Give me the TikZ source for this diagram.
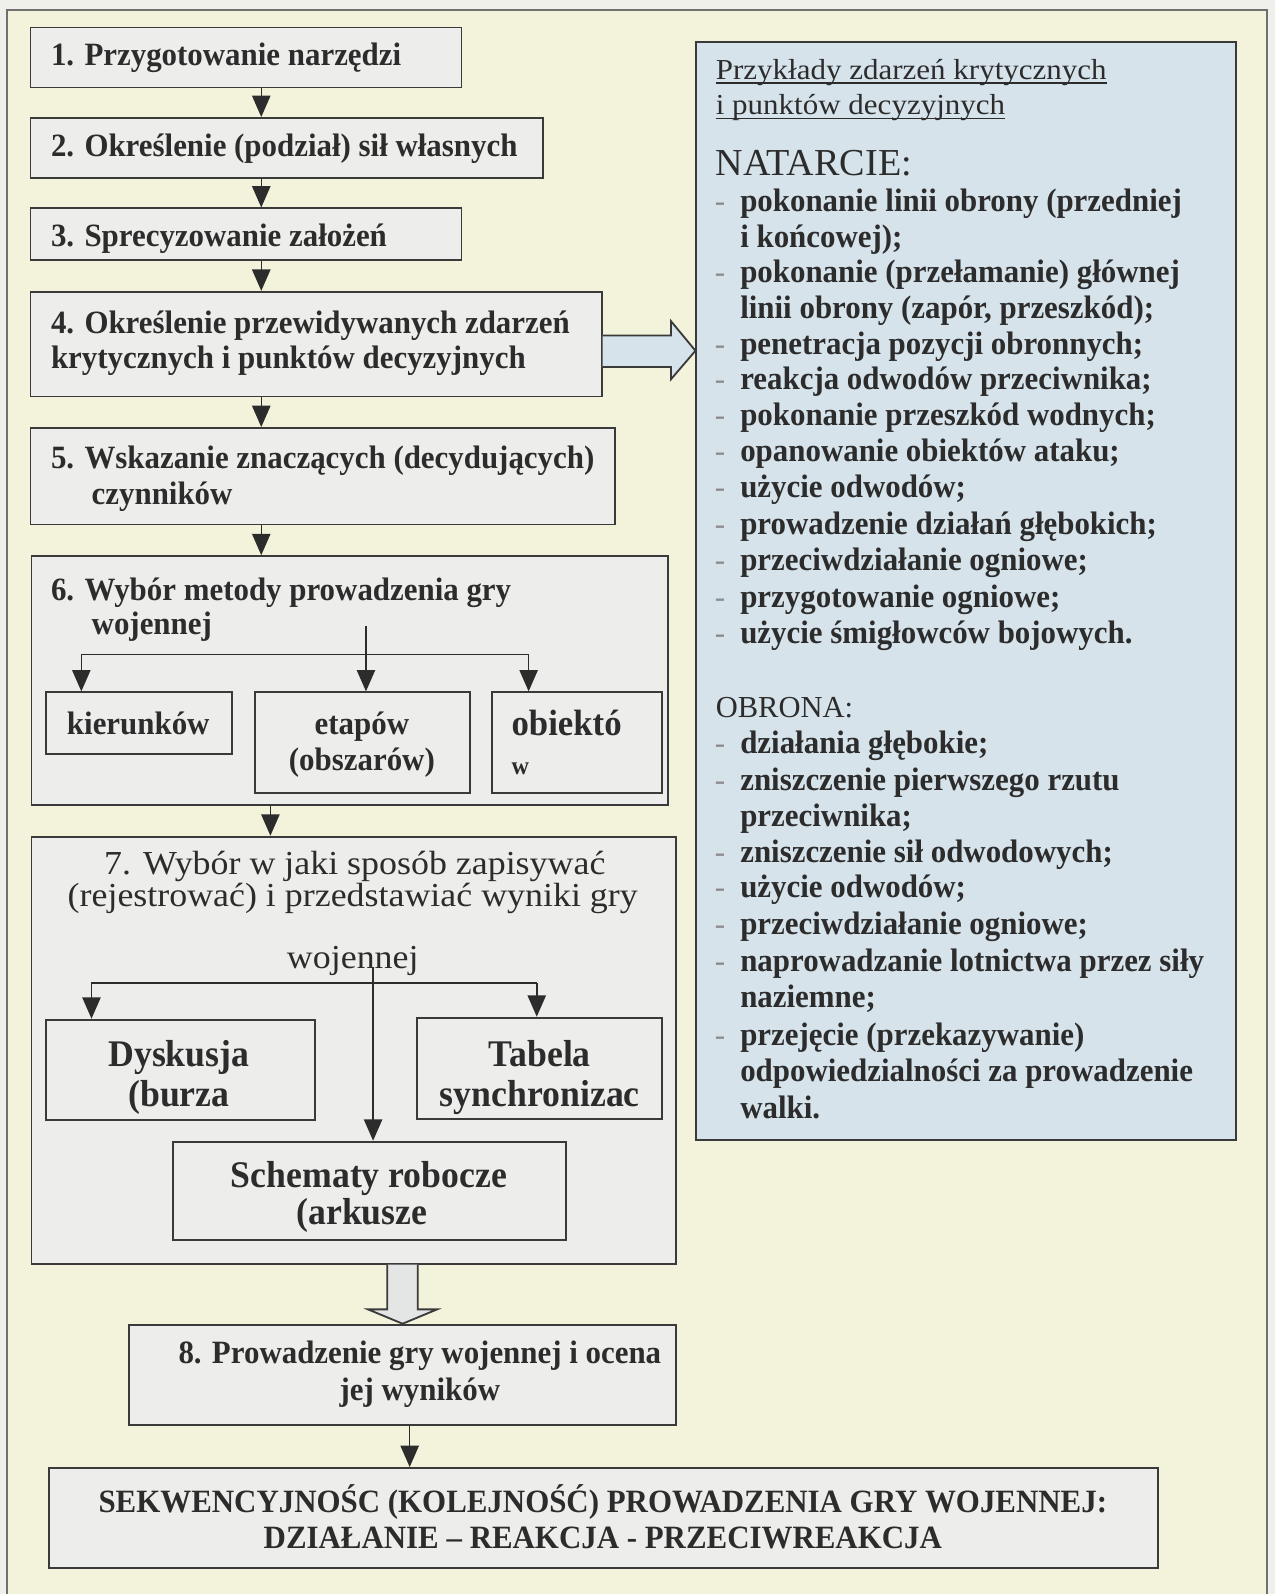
\documentclass[tikz,border=0pt]{standalone}
\usepackage{fontspec}
\setmainfont{Liberation Serif}
\newfontfamily\condserif{Liberation Serif}[FakeStretch=0.95]
\newfontfamily\wideserif{Liberation Serif}[FakeStretch=1.07]
\usetikzlibrary{arrows.meta,fit}

\definecolor{pagebg}{HTML}{EFEFEC}
\definecolor{cream}{HTML}{F3F2DB}
\definecolor{boxfill}{HTML}{EDEEEB}
\definecolor{panelfill}{HTML}{D6E3EA}
\definecolor{ink}{HTML}{2C2C2C}
\definecolor{edge}{HTML}{3A3A3A}
\definecolor{framecol}{HTML}{707070}
\definecolor{dashcol}{HTML}{8C8C8C}
\definecolor{hollowfill}{HTML}{E3E6E5}

\tikzset{
  box/.style={draw=edge, line width=1.8pt, fill=boxfill, inner sep=0pt},
  panelbox/.style={draw=edge, line width=1.8pt, fill=panelfill, inner sep=0pt},
  bold/.style={font=\condserif\bfseries\fontsize{32}{37}\selectfont, text=ink, inner sep=0pt},
  boldbig/.style={font=\condserif\bfseries\fontsize{37}{42}\selectfont, text=ink, inner sep=0pt},
  plain/.style={font=\wideserif\fontsize{28.5}{33}\selectfont, text=ink, inner sep=0pt},
  plainbig/.style={font=\wideserif\fontsize{33}{38}\selectfont, text=ink, inner sep=0pt},
  dashmark/.style={font=\fontsize{30.5}{35.5}\selectfont, text=dashcol, inner sep=0pt},
  conn/.style={draw=ink, line width=1.5pt},
  arr/.style={conn, -{Triangle[length=21pt,width=18pt]}},
  hollow/.style={draw=edge, line width=1.8pt, line join=miter},
}

\begin{document}
\begin{tikzpicture}[x=1pt, y=-1pt]
\useasboundingbox (0,0) rectangle (1254,1568);
\fill[pagebg] (0,0) rectangle (1254,1568);
\fill[cream] (7,10) rectangle (1246,1568);
\draw[framecol, line width=2pt] (7,1575) -- (7,10) -- (1246,10) -- (1246,1575);

% left column boxes
\node[box, fit={(30,27) (454,86)}] (b1) {};
\node[box, fit={(30,116) (534,175)}] (b2) {};
\node[box, fit={(30,205) (454,256)}] (b3) {};
\node[box, fit={(30,287) (592,390)}] (b4) {};
\node[box, fit={(30,421) (605,516)}] (b5) {};
\node[box, fit={(31,547) (657,792)}] (b6) {};
\node[box, fit={(45,681) (228,742)}] (kier) {};
\node[box, fit={(251,681) (462,780)}] (etap) {};
\node[box, fit={(484,681) (651,780)}] (obie) {};
\node[box, fit={(31,823) (665,1243)}] (b7) {};
\node[box, fit={(45,1003) (310,1102)}] (dysk) {};
\node[box, fit={(410,1001) (651,1101)}] (tab) {};
\node[box, fit={(170,1123) (557,1220)}] (schem) {};
\node[box, fit={(127,1303) (665,1402)}] (b8) {};
\node[box, fit={(48,1444) (1139,1542)}] (b9) {};
\node[panelbox, fit={(685,41) (1216,1121)}] (panel) {};

% box texts
\node[bold, anchor=mid west] (t1) at (50,62) {1. Przygotowanie narzędzi};
\node[bold, anchor=mid west] (t2) at (50,152) {2. Określenie (podział) sił własnych};
\node[bold, anchor=mid west] (t3) at (50,240) {3. Sprecyzowanie założeń};
\node[bold, anchor=mid west] (t4a) at (50,326) {4. Określenie przewidywanych zdarzeń};
\node[bold, anchor=mid west] (t4b) at (50,360) {krytycznych i punktów decyzyjnych};
\node[bold, anchor=mid west] (t5a) at (50,459) {5. Wskazanie znaczących (decydujących)};
\node[bold, anchor=mid west] (t5b) at (90,494) {czynników};
\node[bold, anchor=mid west] (t6a) at (50,588) {6. Wybór metody prowadzenia gry};
\node[bold, anchor=mid west] (t6b) at (90,622) {wojennej};
\node[bold, anchor=mid] (tkier) at (136,720) {kierunków};
\node[bold, anchor=mid] (tetap1) at (356,720) {etapów};
\node[bold, anchor=mid] (tetap2) at (356,756) {(obszarów)};
\node[font=\condserif\bfseries\fontsize{36}{41}\selectfont, text=ink, inner sep=0pt, anchor=mid west] (tobie1) at (503,721) {obiektó};
\node[font=\condserif\bfseries\fontsize{25}{29}\selectfont, text=ink, inner sep=0pt, anchor=mid west] (tobie2) at (503,760) {w};

\node[plainbig, anchor=base] (t7a) at (349,860) {7. Wybór w jaki sposób zapisywać};
\node[plainbig, anchor=base] (t7b) at (347,892) {(rejestrować) i przedstawiać wyniki gry};
\node[plainbig, anchor=base] (t7c) at (347,953) {wojennej};
\node[boldbig, anchor=base] (tdysk1) at (176,1049) {Dyskusja};
\node[boldbig, anchor=base] (tdysk2) at (176,1088) {(burza};
\node[boldbig, anchor=base] (ttab1) at (531,1049) {Tabela};
\node[boldbig, anchor=base] (ttab2) at (531,1088) {synchronizac};
\node[boldbig, anchor=base] (tsch1) at (363,1168) {Schematy robocze};
\node[boldbig, anchor=base] (tsch2) at (356,1205) {(arkusze};

\node[bold, anchor=mid] (t8a) at (413,1339) {8. Prowadzenie gry wojennej i ocena};
\node[bold, anchor=mid] (t8b) at (413,1375) {jej wyników};
\node[bold, anchor=base] (t9a) at (593,1488) {SEKWENCYJNOŚC (KOLEJNOŚĆ) PROWADZENIA GRY WOJENNEJ:};
\node[bold, anchor=base] (t9b) at (593,1523) {DZIAŁANIE – REAKCJA - PRZECIWREAKCJA};

% examples panel
\node[plain, anchor=base west] (ttl1) at (704,78) {Przykłady zdarzeń krytycznych};
\node[plain, anchor=base west] (ttl2) at (704,113) {i punktów decyzyjnych};
\draw[ink, line width=1.3pt] ([yshift=-3.5pt]ttl1.base west) -- ([yshift=-3.5pt]ttl1.base east);
\draw[ink, line width=1.3pt] ([yshift=-3.5pt]ttl2.base west) -- ([yshift=-3.5pt]ttl2.base east);
\node[font=\fontsize{37.5}{42}\selectfont, text=ink, inner sep=0pt, anchor=base west] (nat) at (704,173) {NATARCIE:};
\foreach \yy/\dd/\ll [count=\k] in {
  206/1/{pokonanie linii obrony (przedniej},
  241/0/{i końcowej);},
  276/1/{pokonanie (przełamanie) głównej},
  311/0/{linii obrony (zapór, przeszkód);},
  346/1/{penetracja pozycji obronnych;},
  381/1/{reakcja odwodów przeciwnika;},
  416/1/{pokonanie przeszkód wodnych;},
  452/1/{opanowanie obiektów ataku;},
  487/1/{użycie odwodów;},
  523/1/{prowadzenie działań głębokich;},
  559/1/{przeciwdziałanie ogniowe;},
  595/1/{przygotowanie ogniowe;},
  631/1/{użycie śmigłowców bojowych.}}{
  \node[bold, anchor=mid west] (nat\k) at (728,\yy) {\ll};
  \ifnum\dd=1 \node[dashmark, anchor=mid west] (natdash\k) at (703,\yy) {-};\fi
}
\node[font=\fontsize{30}{35}\selectfont, text=ink, inner sep=0pt, anchor=base west] (obr) at (704,706) {OBRONA:};
\foreach \yy/\dd/\ll [count=\k] in {
  739/1/{działania głębokie;},
  775/1/{zniszczenie pierwszego rzutu},
  811/0/{przeciwnika;},
  846/1/{zniszczenie sił odwodowych;},
  881/1/{użycie odwodów;},
  917/1/{przeciwdziałanie ogniowe;},
  953/1/{naprowadzanie lotnictwa przez siły},
  989/0/{naziemne;},
  1026/1/{przejęcie (przekazywanie)},
  1062/0/{odpowiedzialności za prowadzenie},
  1098/0/{walki.}}{
  \node[bold, anchor=mid west] (obr\k) at (728,\yy) {\ll};
  \ifnum\dd=1 \node[dashmark, anchor=mid west] (obrdash\k) at (703,\yy) {-};\fi
}

% main chain of arrows
\coordinate (ax) at (257,0);
\foreach \a/\b in {b1/b2,b2/b3,b3/b4,b4/b5,b5/b6}
  \draw[arr] (\a.south -| ax) -- (\b.north -| ax);
\coordinate (ax7) at (266,0);
\draw[arr] (b6.south -| ax7) -- (b7.north -| ax7);
\coordinate (ax9) at (403,0);
\draw[arr] (b8.south -| ax9) -- (b9.north -| ax9);

% branching inside step 6
\coordinate (st6) at (360,616);
\coordinate (j6l) at (80,644);
\coordinate (j6m) at (360,644);
\coordinate (j6r) at (520,644);
\draw[conn] (st6) -- (j6m);
\draw[conn] (j6l) -- (j6r);
\draw[arr] (j6l) -- (j6l |- kier.north);
\draw[arr] (j6m) -- (j6m |- etap.north);
\draw[arr] (j6r) -- (j6r |- obie.north);

% branching inside step 7
\coordinate (st7) at (367,951);
\coordinate (j7l) at (90,967);
\coordinate (j7r) at (528,967);
\draw[conn] (j7l) -- (j7r);
\draw[arr] (st7) -- (st7 |- schem.north);
\draw[arr] (j7l) -- (j7l |- dysk.north);
\draw[arr] (j7r) -- (j7r |- tab.north);

% block arrow from step 4 to the examples panel
\coordinate (rs1) at (0,330);
\coordinate (rs2) at (0,361);
\coordinate (rh1) at (0,316);
\coordinate (rh2) at (0,373);
\coordinate (rtip) at (0,345);
\coordinate (rhb) at ([xshift=-24pt]panel.west);
\filldraw[hollow, fill=panelfill] (b4.east |- rs1) -- (rhb |- rs1) -- (rhb |- rh1)
  -- (panel.west |- rtip) -- (rhb |- rh2) -- (rhb |- rs2) -- (b4.east |- rs2);

% block arrow from step 7 to step 8
\coordinate (dsl) at (381,0);
\coordinate (dsr) at (411,0);
\coordinate (dhl) at (362,0);
\coordinate (dhr) at (430,0);
\coordinate (dtip) at (396,0);
\coordinate (dhb) at (0,1288);
\filldraw[hollow, fill=hollowfill] (b7.south -| dsl) -- (dsl |- dhb) -- (dhl |- dhb)
  -- (b8.north -| dtip) -- (dhr |- dhb) -- (dsr |- dhb) -- (b7.south -| dsr);
\end{tikzpicture}
\end{document}
